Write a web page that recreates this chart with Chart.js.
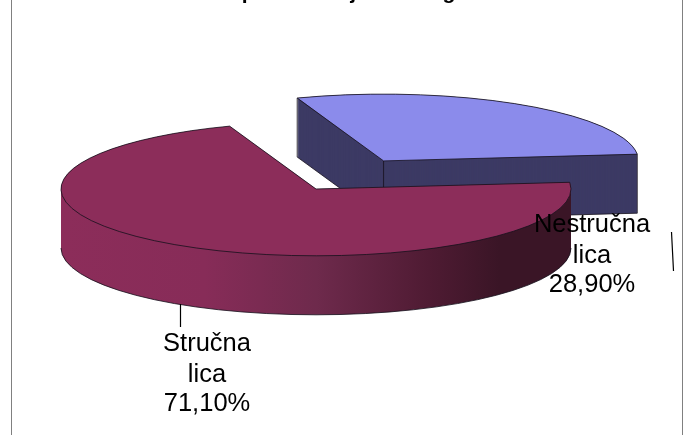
<!DOCTYPE html>
<html><head><meta charset="utf-8">
<style>html,body{margin:0;padding:0;background:#fff;overflow:hidden}#w{position:relative;width:691px;height:435px}canvas{display:block}</style>
<script src="https://cdn.jsdelivr.net/npm/chart.js@4"></script></head>
<body><div id="w"><canvas id="c" width="691" height="435"></canvas></div>
<script>
const categories = ["Nestručna lica", "Stručna lica"];
const values = [28.9, 71.1];
const valueLabels = ["28,90%", "71,10%"];
const topColors = ["#8B8BEB", "#8C2D5A"];
const titleText = "Lica po stručnoj obuci u gradu";

const FLAT = 0.262, DEPTH = 59;
const sideFill = (ctx, i) => {
  if (i === 0) return "#3C3A64";
  const g = ctx.createLinearGradient(62, 0, 571, 0);
  g.addColorStop(0, "#8C2D5A"); g.addColorStop(0.28, "#872C58");
  g.addColorStop(0.5, "#6E2A4C"); g.addColorStop(0.72, "#4F1B33");
  g.addColorStop(0.86, "#3A1526"); g.addColorStop(1, "#3A1526");
  return g;
};
function radiusFix(a) {
  return (a.options.offset || 0) / 4 * (1 - Math.sin(Math.min(Math.PI, a.circumference)));
}
function arcGeom(a) {
  const o = (a.options.offset || 0) / 4, mid = (a.startAngle + a.endAngle) / 2;
  return { x: a.x + Math.cos(mid) * o, y: a.y + Math.sin(mid) * o * FLAT, r: a.outerRadius + radiusFix(a), s: a.startAngle, e: a.endAngle };
}
function slicePath(ctx, g, dy) {
  ctx.beginPath();
  ctx.moveTo(g.x, g.y + dy);
  ctx.ellipse(g.x, g.y + dy, g.r, g.r * FLAT, 0, g.s, g.e);
  ctx.closePath();
}
const pie3d = {
  id: "pie3d",
  afterDatasetUpdate(chart) {
    chart.getDatasetMeta(0).data.forEach((a) => { a.outerRadius -= radiusFix(a); });
  },
  beforeDatasetsDraw(chart) {
    const ctx = chart.ctx, arcs = chart.getDatasetMeta(0).data;
    arcs.forEach((a, i) => {
      const g = arcGeom(a);
      ctx.save();
      ctx.fillStyle = sideFill(ctx, i);
      for (let d = DEPTH; d >= 0; d -= 1) { slicePath(ctx, g, d); ctx.fill(); }
      ctx.strokeStyle = "#15101c"; ctx.lineWidth = 0.8;
      if (i === 0) {
        ctx.beginPath();
        const sx = g.x + Math.cos(g.s) * g.r, sy = g.y + Math.sin(g.s) * g.r * FLAT;
        const ex = g.x + Math.cos(g.e) * g.r, ey = g.y + Math.sin(g.e) * g.r * FLAT;
        ctx.moveTo(g.x, g.y); ctx.lineTo(g.x, g.y + DEPTH);
        ctx.moveTo(sx, sy); ctx.lineTo(sx, sy + DEPTH);
        ctx.moveTo(g.x, g.y + DEPTH); ctx.lineTo(sx, sy + DEPTH);
        ctx.moveTo(ex, ey); ctx.lineTo(ex, ey + DEPTH);
        ctx.moveTo(g.x, g.y + DEPTH); ctx.lineTo(ex, ey + DEPTH);
        ctx.stroke();
      } else {
        ctx.beginPath();
        ctx.ellipse(g.x, g.y + DEPTH, g.r, g.r * FLAT, 0, 0, Math.PI);
        ctx.stroke();
      }
      ctx.restore();
    });
    ctx.save();
    const a = arcs[0];
    ctx.translate(0, a.y); ctx.scale(1, FLAT); ctx.translate(0, -a.y);
  },
  afterDatasetsDraw(chart) {
    const ctx = chart.ctx, arcs = chart.getDatasetMeta(0).data;
    ctx.restore();
    arcs.forEach((a) => {
      const g = arcGeom(a);
      ctx.save();
      ctx.strokeStyle = "#15101c"; ctx.lineWidth = 0.8;
      slicePath(ctx, g, 0); ctx.stroke();
      ctx.restore();
    });
    ctx.save();
    ctx.fillStyle = "#000"; ctx.textBaseline = "alphabetic";
    ctx.textAlign = "left";
    ctx.font = "bold 21px 'Liberation Sans', Arial, sans-serif";
    ctx.fillText(titleText, 194, -1);
    ctx.textAlign = "center";
    ctx.font = "25.5px 'Liberation Sans', Arial, sans-serif";
    const pos = [[592, 232], [207, 351]];
    categories.forEach((c, i) => {
      const [w1, w2] = c.split(" ");
      ctx.fillText(w1, pos[i][0], pos[i][1]);
      ctx.fillText(w2, pos[i][0], pos[i][1] + 31);
      ctx.fillText(valueLabels[i], pos[i][0], pos[i][1] + 60);
    });
    ctx.strokeStyle = "#000"; ctx.lineWidth = 1.2;
    ctx.beginPath();
    ctx.moveTo(180.5, 304); ctx.lineTo(180.5, 327);
    ctx.moveTo(671.5, 232); ctx.lineTo(673.5, 271);
    ctx.stroke();
    ctx.strokeStyle = "#808080"; ctx.lineWidth = 1;
    ctx.beginPath();
    ctx.moveTo(11.5, 0); ctx.lineTo(11.5, 435);
    ctx.moveTo(682.5, 0); ctx.lineTo(682.5, 435);
    ctx.stroke();
    ctx.restore();
  }
};
new Chart(document.getElementById("c"), {
  type: "pie",
  data: { labels: categories, datasets: [{
    data: values, backgroundColor: topColors, borderWidth: 0,
    offset: [507, 0], radius: 255, clip: false
  }]},
  options: {
    responsive: false, animation: false, rotation: -19.8, cutout: "0%",
    layout: { padding: { left: 0, top: 0, right: 59, bottom: 57 } },
    plugins: { legend: { display: false }, title: { display: false }, tooltip: { enabled: false } }
  },
  plugins: [pie3d]
});
</script></body></html>
